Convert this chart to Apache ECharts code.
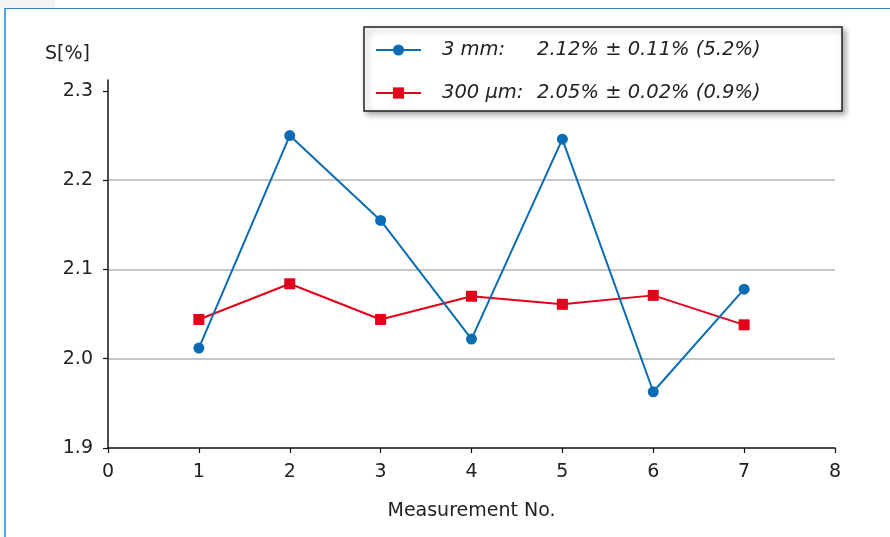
<!DOCTYPE html>
<html>
<head>
<meta charset="utf-8">
<script src="https://cdn.jsdelivr.net/npm/echarts@6/dist/echarts.min.js"></script>
<style>
  html, body { margin: 0; padding: 0; background: #ffffff; }
  #patch { position: absolute; left: 0; top: 0; width: 55px; height: 8px; background: #f3f3f3; }
  #frame { position: absolute; left: 4px; top: 8px; width: 900px; height: 560px;
           border-top: 1.5px solid #2a83cf; border-left: 2px solid #5aa2da; box-sizing: border-box; }
  #chart { position: absolute; left: 0; top: 0; width: 890px; height: 537px; }
</style>
</head>
<body>
<div id="patch"></div>
<div id="frame"></div>
<div id="chart"></div>
<script>
// ---- data ----
const measurementNo = [1, 2, 3, 4, 5, 6, 7];
const series3mm   = [2.012, 2.250, 2.155, 2.022, 2.246, 1.963, 2.078];
const series300um = [2.044, 2.084, 2.044, 2.070, 2.061, 2.071, 2.038];
const seriesNames = ['3 mm', '300 µm'];
const legendLabels = ['3 mm:', '300 µm:'];
const legendStats = ['2.12% ± 0.11% (5.2%)', '2.05% ± 0.02% (0.9%)'];
const xTicks = [0, 1, 2, 3, 4, 5, 6, 7, 8];
const yTicks = [1.9, 2.0, 2.1, 2.2, 2.3];
const xAxisTitle = 'Measurement No.';
const yAxisTitle = 'S[%]';

const FONT = '"DejaVu Sans", Verdana, sans-serif';
const AX_FS = 19;
const LG_FS = 19.5;
const chart = echarts.init(document.getElementById('chart'), null, { renderer: 'canvas' });

const toPairs = (xs, ys) => xs.map((x, i) => [x, ys[i]]);

chart.setOption({
  backgroundColor: 'transparent',
  animation: false,
  grid: { left: 108, right: 55, top: 80, bottom: 89, containLabel: false },
  legend: {
    orient: 'vertical',
    left: 364, top: 27,
    padding: [13, 70, 8, 11],
    itemGap: 23,
    itemWidth: 45,
    itemHeight: 14,
    backgroundColor: '#ffffff',
    borderColor: '#222222',
    borderWidth: 1.5,
    shadowBlur: 6,
    shadowColor: 'rgba(0,0,0,0.35)',
    shadowOffsetX: 3,
    shadowOffsetY: 3,
    data: seriesNames,
    formatter: function (name) {
      const i = seriesNames.indexOf(name);
      return '{s| }{a|' + legendLabels[i] + '}{b|' + legendStats[i] + '}';
    },
    textStyle: {
      fontFamily: FONT, fontSize: LG_FS, fontStyle: 'italic', color: '#222',
      rich: {
        s: { width: 16, fontSize: LG_FS, lineHeight: 22 },
        a: { width: 95, fontFamily: FONT, fontSize: LG_FS, fontStyle: 'italic', color: '#222', lineHeight: 22 },
        b: { width: 235, fontFamily: FONT, fontSize: LG_FS, fontStyle: 'italic', color: '#222', lineHeight: 22 }
      }
    }
  },
  xAxis: {
    type: 'value',
    min: xTicks[0], max: xTicks[xTicks.length - 1], interval: 1,
    name: xAxisTitle,
    nameLocation: 'middle',
    nameGap: 54,
    nameTextStyle: { fontFamily: FONT, fontSize: AX_FS, color: '#222' },
    axisLine: { show: true, onZero: false, lineStyle: { color: '#111', width: 1.5 } },
    axisTick: { show: true, inside: false, length: 5, lineStyle: { color: '#111', width: 1.2 } },
    axisLabel: { fontFamily: FONT, fontSize: AX_FS, color: '#222', margin: 15 },
    splitLine: { show: false }
  },
  yAxis: {
    type: 'value',
    min: yTicks[0], max: 2.3123, interval: 0.1,
    name: yAxisTitle,
    nameLocation: 'end',
    nameGap: 26,
    nameTextStyle: { fontFamily: FONT, fontSize: AX_FS, color: '#222', align: 'right', verticalAlign: 'middle', padding: [0, 18, 0, 0] },
    axisLine: { show: true, onZero: false, lineStyle: { color: '#111', width: 1.5 } },
    axisTick: { show: true, inside: false, length: 5, customValues: yTicks, lineStyle: { color: '#111', width: 1.2 } },
    axisLabel: { fontFamily: FONT, fontSize: AX_FS, color: '#222', margin: 15, customValues: yTicks,
                 formatter: v => v.toFixed(1) },
    splitLine: { show: true, showMinLine: false, showMaxLine: false, lineStyle: { color: '#c6c6c6', width: 1.8 } }
  },
  series: [
    {
      name: seriesNames[0],
      type: 'line',
      data: toPairs(measurementNo, series3mm),
      symbol: 'circle', symbolSize: 11,
      color: '#0a6db3',
      lineStyle: { width: 2, color: '#0a6db3' },
      itemStyle: { color: '#0a6db3' },
      z: 3
    },
    {
      name: seriesNames[1],
      type: 'line',
      data: toPairs(measurementNo, series300um),
      symbol: 'rect', symbolSize: 11,
      color: '#e2001a',
      lineStyle: { width: 2, color: '#e2001a' },
      itemStyle: { color: '#e2001a' },
      z: 2
    }
  ]
});
</script>
</body>
</html>
